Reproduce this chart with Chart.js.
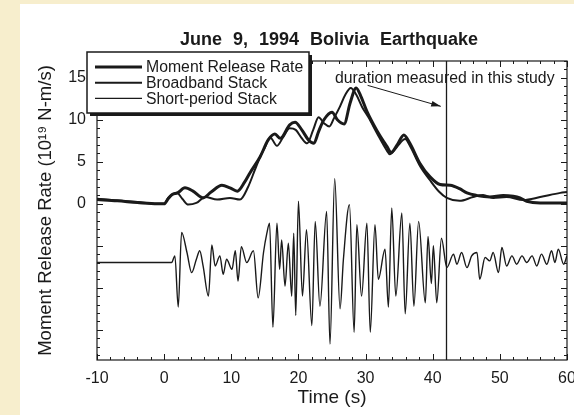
<!DOCTYPE html>
<html>
<head>
<meta charset="utf-8">
<script src="https://cdn.jsdelivr.net/npm/chart.js@4.4.1/dist/chart.umd.min.js"></script>
<style>
  html, body { margin: 0; padding: 0; background: #f7eecd; }
  #wrap { position: relative; width: 574px; height: 415px; }
</style>
</head>
<body>
<div id="wrap"><canvas id="quake" width="574" height="415"></canvas></div>
<script>
// Text
const chartTitle = "June 9, 1994 Bolivia Earthquake";
const xTitle = "Time (s)";
const yTitle = "Moment Release Rate (10¹⁹ N-m/s)";
const noteText = "duration measured in this study";
const seriesNames = ["Moment Release Rate", "Broadband Stack", "Short-period Stack"];

// Axis values
const xTickValues = [-10, 0, 10, 20, 30, 40, 50, 60];
const yTickLabels = [0, 5, 10, 15];
const durationEnd = 42; // s, the vertical line

// Moment release rate (thick)
const momentTime = [-10, -7, -4, -1, 0, 0.6, 1.2, 2, 3.1, 4.3, 5.8, 7, 8.6, 9.8, 10.9,
  12, 12.8, 14.3, 15.5, 16.5, 17.3, 18.7, 19.5, 20.5, 21.5, 22.3, 23, 23.8, 25, 25.8,
  26.8, 27.7, 28.6, 29.3, 30.2, 31.7, 33.2, 33.8, 34.7, 35.7, 36.6, 38.1, 39.6, 41.1, 42.6,
  44, 45.1, 46.5, 48.5, 50.5, 52, 53, 54, 56, 60];
const momentRate = [0.5, 0.35, 0.15, 0, 0, 0.6, 1.1, 1.3, 1.9, 1.5, 0.7, 1.4, 2.2, 1.9, 1.5,
  2.6, 3.7, 5.6, 7.6, 8.3, 7.8, 9.4, 9.7, 8.8, 7.6, 7.2, 8.6, 10, 10.9, 10,
  9.5, 12, 13.8, 12.8, 11, 8.7, 6.8, 6.1, 7, 8.2, 7.2, 4.8, 3.2, 2.3, 2.2,
  1.8, 1.3, 1, 0.8, 1, 0.9, 0.7, 0.3, 0.1, 0.1];

// Broadband stack (medium)
const broadTime = [-10, -7, -4, -1, 0, 0.6, 1.2, 1.9, 2.7, 3.6, 4.8, 6.1, 7.9, 9.8, 11.3,
  12.5, 13.5, 14.3, 15, 15.8, 16.8, 17.7, 18.7, 19.6, 20.5, 21.3, 22.2, 23, 23.8, 24.6,
  25.3, 26.2, 27, 27.8, 28.6, 29.5, 30.5, 31.7, 33.2, 33.6, 34.7, 35.9, 36.6, 38.1, 39.6,
  41, 42.1, 44, 46, 47.5, 49, 51, 53.5, 56, 59, 60];
const broadRate = [0.6, 0.4, 0.2, 0, 0, 0.7, 1.1, 1.3, 0.6, -0.1, 0.1, 0.8, 0.5, 0.7, 0.5,
  2, 4, 5.6, 6.7, 7.9, 6.9, 7.9, 9, 8.8, 7.8, 7.2, 8.8, 10.3, 9.6, 9.2,
  10.2, 11.6, 13, 13.8, 13, 11.5, 10.2, 8.4, 6.3, 5.9, 6.8, 7.7, 6.9, 4.5, 2.8,
  1.4, 0.7, 0.35, 0.8, 1.05, 0.7, 0.8, 0.45, 0.8, 1.3, 1.4];

// Short-period stack (thin, plotted offset below zero)
const shortTime = [-10, 1.1, 1.6, 2.1, 2.6, 3.4, 4.1, 4.8, 5.3, 5.8, 6.6, 7.1, 7.6, 8.3, 8.8,
  9.3, 10.1, 10.6, 11, 11.5, 12.3, 13.3, 14, 14.8, 15.3, 15.7, 16.2, 16.8, 17.2, 17.5,
  18, 18.5, 19, 19.3, 19.6, 20, 20.6, 21.2, 22, 22.5, 23.2, 24.2, 24.7, 25.4, 26.2,
  26.7, 27.6, 28.3, 28.7, 29.4, 30.2, 30.7, 31.4, 31.9, 32.9, 33.4, 33.9, 34.5, 35.4, 35.9,
  36.6, 37.2, 37.9, 38.9, 39.3, 39.8, 40.1, 40.6, 41.3, 42.1, 43.1, 43.6, 44.3, 45.1, 45.8,
  46.6, 47, 47.8, 48.5, 49, 49.8, 50.3, 51, 51.8, 52.5, 53.3, 54, 54.8, 55.5, 56.2,
  57, 57.7, 58.2, 58.7, 59.5, 60];
const shortRate = [-7, -7, -6.2, -12.3, -3.4, -5.8, -8.2, -6.6, -5.6, -7.4, -11, -4.9, -7.4, -6.2, -8.4,
  -6.6, -7.8, -5.6, -9.2, -5.1, -7, -5.6, -11.2, -5.8, -3.5, -2.3, -14.7, -2.3, -7.8, -4.3,
  -9.8, -4.7, -11, -3.5, -13.3, 0.3, -11, -3.1, -14.5, -2.1, -12.2, -0.9, -16.7, 3, -12.5,
  -6.6, -0.1, -15.3, -2.5, -11, -2.3, -15.3, -2.5, -9, -5.4, -12.3, -0.5, -11, -1.1, -13.1,
  -2.3, -12.2, -2.1, -11.8, -3.9, -9.5, -5, -11.8, -4.1, -7.6, -6, -7.2, -5.8, -7.6, -6.2,
  -5.8, -9, -6.4, -6.8, -5.8, -8.2, -5.2, -7.4, -6.2, -7.2, -6.2, -7, -6.2, -7.4, -6,
  -7.2, -5.6, -7, -5.4, -7.2, -6.2];

const FONT = "'Liberation Sans', Arial, Helvetica, sans-serif";
const INK = "#1a1a1a";

function toPoints(xs, ys) {
  return xs.map((x, i) => ({ x: x, y: ys[i] }));
}

// Background, frame, inward ticks, marker line, note, legend and title
const paper = {
  id: "paper",
  beforeDraw(chart) {
    const ctx = chart.ctx;
    ctx.save();
    ctx.fillStyle = "#f7eecd";
    ctx.fillRect(0, 0, chart.width, chart.height);
    ctx.fillStyle = "#ffffff";
    ctx.fillRect(20, 4, chart.width - 20, chart.height - 4);
    ctx.restore();
  },
  afterDatasetsDraw(chart) {
    const ctx = chart.ctx;
    const ca = chart.chartArea;
    const xs = chart.scales.x;
    const ys = chart.scales.y;
    ctx.save();
    ctx.strokeStyle = INK;
    ctx.lineWidth = 1.2;
    ctx.strokeRect(ca.left, ca.top, ca.right - ca.left, ca.bottom - ca.top);

    // ticks point inward on all four sides
    ctx.lineWidth = 1;
    ctx.beginPath();
    for (let t = xs.min; t <= xs.max; t += 2) {
      const px = Math.round(xs.getPixelForValue(t)) + 0.5;
      const len = t % 10 === 0 ? 6 : 3;
      ctx.moveTo(px, ca.bottom); ctx.lineTo(px, ca.bottom - len);
      ctx.moveTo(px, ca.top); ctx.lineTo(px, ca.top + len);
    }
    for (let v = Math.ceil(ys.min); v <= ys.max; v += 1) {
      const py = Math.round(ys.getPixelForValue(v)) + 0.5;
      const len = v % 5 === 0 ? 6 : 3;
      ctx.moveTo(ca.left, py); ctx.lineTo(ca.left + len, py);
      ctx.moveTo(ca.right, py); ctx.lineTo(ca.right - len, py);
    }
    ctx.stroke();

    // end of the measured duration
    const lx = Math.round(xs.getPixelForValue(durationEnd)) + 0.5;
    ctx.lineWidth = 1.3;
    ctx.beginPath();
    ctx.moveTo(lx, ca.top);
    ctx.lineTo(lx, ca.bottom);
    ctx.stroke();

    // note and arrow
    ctx.fillStyle = INK;
    ctx.font = "15.8px " + FONT;
    ctx.textAlign = "left";
    ctx.textBaseline = "middle";
    ctx.fillText(noteText, xs.getPixelForValue(25.45), ys.getPixelForValue(14.9));
    const ax0 = xs.getPixelForValue(30.3), ay0 = ys.getPixelForValue(14.1);
    const ax1 = xs.getPixelForValue(41.2), ay1 = ys.getPixelForValue(11.6);
    ctx.lineWidth = 1;
    ctx.beginPath();
    ctx.moveTo(ax0, ay0);
    ctx.lineTo(ax1, ay1);
    ctx.stroke();
    const ang = Math.atan2(ay1 - ay0, ax1 - ax0);
    ctx.beginPath();
    ctx.moveTo(ax1, ay1);
    ctx.lineTo(ax1 - 10 * Math.cos(ang - 0.3), ay1 - 10 * Math.sin(ang - 0.3));
    ctx.lineTo(ax1 - 10 * Math.cos(ang + 0.3), ay1 - 10 * Math.sin(ang + 0.3));
    ctx.closePath();
    ctx.fill();

    // legend box with drop shadow
    const bx = 87, by = 52, bw = 222, bh = 61;
    ctx.fillStyle = INK;
    ctx.fillRect(bx + 3, by + 3, bw, bh);
    ctx.fillStyle = "#ffffff";
    ctx.fillRect(bx, by, bw, bh);
    ctx.strokeStyle = INK;
    ctx.lineWidth = 1.5;
    ctx.strokeRect(bx, by, bw, bh);
    chart.data.datasets.slice().reverse().forEach((ds, i) => {
      const ry = by + 15 + i * 15.7;
      ctx.strokeStyle = INK;
      ctx.lineWidth = ds.borderWidth;
      ctx.beginPath();
      ctx.moveTo(bx + 8, ry);
      ctx.lineTo(bx + 55, ry);
      ctx.stroke();
      ctx.fillStyle = INK;
      ctx.font = "15.8px " + FONT;
      ctx.fillText(ds.label, bx + 59, ry + 1);
    });

    // title
    ctx.font = "bold 18px " + FONT;
    ctx.wordSpacing = "6px";
    ctx.textAlign = "center";
    ctx.fillText(chartTitle, 329, 40);
    ctx.restore();
  }
};

new Chart(document.getElementById("quake"), {
  type: "line",
  data: {
    datasets: [
      {
        label: seriesNames[2],
        data: toPoints(shortTime, shortRate),
        borderColor: INK,
        borderWidth: 1.4,
        cubicInterpolationMode: "monotone"
      },
      {
        label: seriesNames[1],
        data: toPoints(broadTime, broadRate),
        borderColor: INK,
        borderWidth: 2,
        cubicInterpolationMode: "monotone"
      },
      {
        label: seriesNames[0],
        data: toPoints(momentTime, momentRate),
        borderColor: INK,
        borderWidth: 3,
        cubicInterpolationMode: "monotone"
      }
    ]
  },
  options: {
    responsive: false,
    animation: false,
    devicePixelRatio: 1,
    layout: { padding: { top: 61, right: 7, left: 0, bottom: 0 } },
    elements: { point: { radius: 0 } },
    plugins: { legend: { display: false }, tooltip: { enabled: false } },
    scales: {
      x: {
        type: "linear",
        min: -10,
        max: 60,
        afterBuildTicks: (scale) => { scale.ticks = xTickValues.map((v) => ({ value: v })); },
        afterFit: (scale) => { scale.height = 55; scale.paddingLeft = 0; scale.paddingRight = 0; },
        grid: { display: false, drawTicks: false },
        border: { display: false },
        ticks: { color: INK, padding: 9, maxRotation: 0, font: { family: FONT, size: 16 } },
        title: { display: true, text: xTitle, color: INK, padding: { top: 0, bottom: 6 }, font: { family: FONT, size: 19 } }
      },
      y: {
        type: "linear",
        min: -18.6,
        max: 17,
        afterBuildTicks: (scale) => { scale.ticks = yTickLabels.map((v) => ({ value: v })); },
        afterFit: (scale) => { scale.width = 97; scale.paddingTop = 0; scale.paddingBottom = 0; },
        grid: { display: false, drawTicks: false },
        border: { display: false },
        ticks: { color: INK, padding: 11, font: { family: FONT, size: 16 } },
        title: { display: true, text: yTitle, color: INK, padding: { top: 35, bottom: 0 }, font: { family: FONT, size: 18.5 } }
      }
    }
  },
  plugins: [paper]
});
</script>
</body>
</html>
